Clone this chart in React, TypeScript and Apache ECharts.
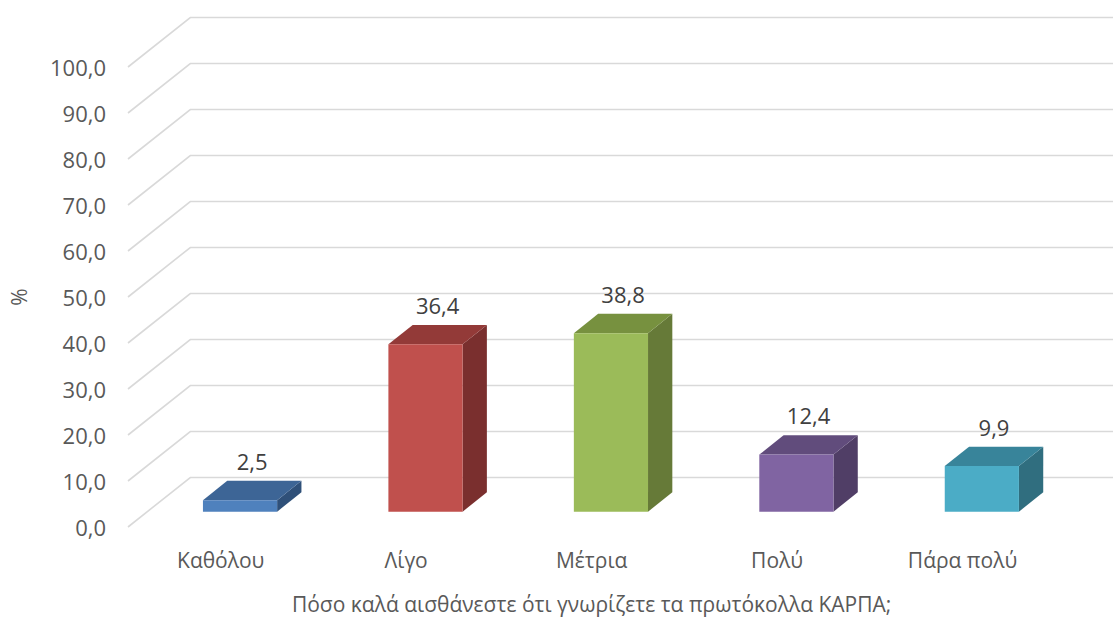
import React, { useEffect, useRef } from "react";
import * as echarts from "echarts";

// Survey answers and their shares (%)
const categories = ["Καθόλου", "Λίγο", "Μέτρια", "Πολύ", "Πάρα πολύ"];
const shares = [2.5, 36.4, 38.8, 12.4, 9.9];
const yTicks = [0, 10, 20, 30, 40, 50, 60, 70, 80, 90, 100];

const xTitle = "Πόσο καλά αισθάνεστε ότι γνωρίζετε τα πρωτόκολλα ΚΑΡΠΑ;";
const yTitle = "%";

// front / top / side shades for each column
const faceColors = [
  ["#4F81BD", "#3D6596", "#2F5079"],
  ["#C0504D", "#933A38", "#7A2F2E"],
  ["#9BBB59", "#77913F", "#667A38"],
  ["#8064A2", "#614C7C", "#503E66"],
  ["#4BACC6", "#38849A", "#306E7F"],
];

const FONT = "'Open Sans', 'Noto Sans', 'DejaVu Sans', sans-serif";
const fmt = (v: number) => v.toFixed(1).replace(".", ",");

// depth direction of the 3D box (pixels for the full floor depth)
const DEPTH_X = 62.3;
const DEPTH_Y = -49.5;
const BAR_NEAR = 0.31;
const BAR_FAR = 0.7;
const BAR_WIDTH = 0.4;

export default function App() {
  const ref = useRef<HTMLDivElement>(null);

  useEffect(() => {
    document.body.style.margin = "0";
    if (!ref.current) return;
    const chart = echarts.init(ref.current, undefined, { renderer: "svg" });

    const option: any = {
      animation: false,
      backgroundColor: "#ffffff",
      grid: { left: 122.75, top: 67, width: 932.5, height: 464, containLabel: false },
      xAxis: {
        type: "category",
        data: categories,
        axisLine: { show: false },
        axisTick: { show: false },
        axisLabel: { color: "#595959", fontSize: 21, fontFamily: FONT, margin: 22 },
        name: xTitle,
        nameLocation: "middle",
        nameGap: 66,
        nameTextStyle: { color: "#595959", fontSize: 21, fontFamily: FONT },
      },
      yAxis: {
        type: "value",
        min: 0,
        max: 100,
        interval: 10,
        axisLine: { show: false },
        axisTick: { show: false },
        splitLine: { show: false },
        axisLabel: {
          color: "#595959",
          fontSize: 22,
          fontFamily: FONT,
          margin: 22,
          formatter: (v: number) => fmt(v),
        },
        name: yTitle,
        nameLocation: "middle",
        nameGap: 99,
        nameTextStyle: { color: "#595959", fontSize: 21, fontFamily: FONT },
      },
      series: [
        {
          // side wall diagonals and back wall gridlines
          type: "custom",
          silent: true,
          clip: false,
          data: yTicks.map((t) => [0, t]),
          encode: { x: 0, y: 1 },
          renderItem: (params: any, api: any) => {
            const cs = params.coordSys;
            const y = api.coord([0, api.value(1)])[1];
            const x0 = cs.x;
            return {
              type: "polyline",
              shape: {
                points: [
                  [x0, y],
                  [x0 + DEPTH_X, y + DEPTH_Y],
                  [x0 + cs.width + DEPTH_X, y + DEPTH_Y],
                ],
              },
              style: { stroke: "#d9d9d9", lineWidth: 1.6, fill: "none" },
              z2: 0,
            };
          },
        },
        {
          type: "custom",
          clip: false,
          data: shares.map((v, i) => [i, v]),
          encode: { x: 0, y: 1 },
          renderItem: (params: any, api: any) => {
            const i = api.value(0);
            const v = api.value(1);
            const base = api.coord([i, 0]);
            const top = api.coord([i, v]);
            const band = api.size([1, 0])[0];
            const w = band * BAR_WIDTH;
            const cx = base[0] + BAR_NEAR * DEPTH_X;
            const by = base[1] + BAR_NEAR * DEPTH_Y;
            const ty = top[1] + BAR_NEAR * DEPTH_Y;
            const L = cx - w / 2;
            const R = cx + w / 2;
            const dx = (BAR_FAR - BAR_NEAR) * DEPTH_X;
            const dy = (BAR_FAR - BAR_NEAR) * DEPTH_Y;
            const [cFront, cTop, cSide] = faceColors[i];
            return {
              type: "group",
              children: [
                {
                  type: "polygon",
                  shape: { points: [[R, ty], [R, by], [R + dx, by + dy], [R + dx, ty + dy]] },
                  style: { fill: cSide },
                },
                {
                  type: "polygon",
                  shape: { points: [[L, ty], [R, ty], [R + dx, ty + dy], [L + dx, ty + dy]] },
                  style: { fill: cTop },
                },
                {
                  type: "rect",
                  shape: { x: L, y: ty, width: w, height: by - ty },
                  style: { fill: cFront },
                },
                {
                  type: "text",
                  x: cx + dx / 2,
                  y: ty + dy - 20,
                  style: {
                    text: fmt(v),
                    fill: "#404040",
                    fontSize: 22,
                    fontFamily: FONT,
                    align: "center",
                    verticalAlign: "middle",
                  },
                },
              ],
            };
          },
        },
      ],
    };

    chart.setOption(option);
    return () => chart.dispose();
  }, []);

  return <div ref={ref} style={{ width: 1113, height: 619 }} />;
}
